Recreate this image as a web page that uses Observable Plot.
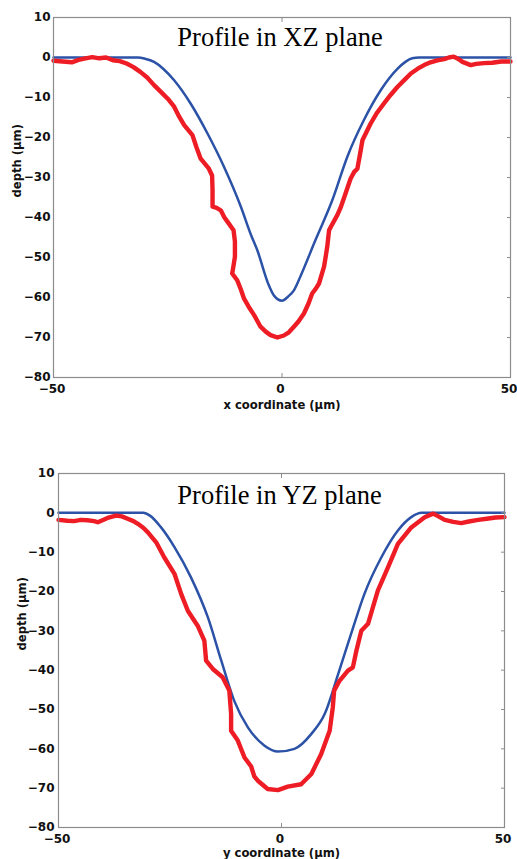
<!DOCTYPE html>
<html>
<head>
<meta charset="utf-8">
<script src="https://cdn.jsdelivr.net/npm/d3@7"></script>
<script src="https://cdn.jsdelivr.net/npm/@observablehq/plot@0.6"></script>
<style>
  html, body { margin: 0; padding: 0; background: #fff; }
  #wrap { width: 517px; height: 859px; overflow: hidden; }
  svg { display: block; }
</style>
</head>
<body>
<div id="wrap"></div>
<script>
// ---------- data ----------
const titles = ["Profile in XZ plane", "Profile in YZ plane"];
const xLabels = ["x coordinate (\u03bcm)", "y coordinate (\u03bcm)"];
const yLabel = "depth (\u03bcm)";
const xTicks = [-50, 0, 50];
const yTicks = [-80, -70, -60, -50, -40, -30, -20, -10, 0, 10];

// XZ plane: simulated (blue)
const xzBlueX = [-50, -31.5, -30, -28, -26, -23.6, -20, -16.3, -12.7, -9, -6.8, -5.4, -3, -1.7, 0, 1.3, 2.6, 4, 7.3, 11, 14.3, 17.9, 21.6, 25.3, 27, 28.5, 30, 50];
const xzBlueD = [0, 0, -0.3, -1.1, -2.8, -5.7, -11.5, -19, -27.3, -37.3, -44.3, -48.2, -56.6, -59.6, -60.8, -59.8, -58.2, -54.8, -45.7, -35.7, -24.8, -15.7, -8.2, -2.8, -1.1, -0.2, 0, 0];

// XZ plane: measured (red)
const xzRedX = [-50, -48, -46, -44.5, -43, -41.5, -40, -38.5, -37, -35.5, -34, -32.5, -31, -29.5, -28, -26.5, -25, -23.6, -22.5, -21.4, -19.6, -18.7, -17.8, -16, -15.3, -15.2, -15.2, -14.3, -13.4, -12.6, -11.9, -10.6, -10.3, -10.3, -10.6, -10.9, -9.8, -9.0, -8.3, -7.3, -6.1, -4.7, -3.5, -2.5, -1, 0.4, 1.5, 2.6, 3.6, 4.8, 5.8, 6.6, 7.4, 8.1, 9.2, 9.6, 9.9, 10.3, 10.7, 12.1, 12.8, 13.6, 15, 15.8, 16.5, 17.1, 17.6, 19.4, 20.8, 22.3, 23.8, 25.3, 26.8, 28.2, 29.7, 31.1, 32.5, 34, 35.5, 36.5, 37.6, 38.5, 39.5, 41.3, 42.5, 44.2, 46, 48, 50];
const xzRedD = [-0.8, -1.0, -1.2, -0.6, -0.2, 0.1, -0.2, 0.0, -0.7, -0.9, -1.5, -2.4, -3.6, -5.0, -6.9, -8.6, -10.3, -12.3, -14.8, -16.9, -19.4, -22.5, -25.3, -27.8, -29.5, -33, -37.3, -37.6, -38.2, -40, -41.1, -43.2, -46, -49.8, -52, -54, -55.7, -58, -60.3, -62.3, -64.4, -67.3, -68.6, -69.4, -70, -69.5, -68.7, -67.3, -66, -64, -61.5, -59, -57.8, -56.5, -52.3, -49.5, -47.3, -43.2, -42.3, -39.4, -37.6, -35.0, -30.3, -28.6, -27.8, -24, -20.7, -16.5, -13.8, -11.5, -9.3, -7.3, -5.6, -4, -2.8, -1.9, -1.2, -0.7, -0.4, 0, 0.2, -0.3, -1.1, -1.9, -1.6, -1.4, -1.3, -1.0, -1.0];

// YZ plane: simulated (blue)
const yzBlueX = [-50, -31, -29.5, -27, -24, -20.3, -16.5, -13.5, -10.6, -7.5, -3.8, -0.8, 2.9, 6.7, 9.7, 12.7, 15.6, 18.6, 22.4, 26.1, 29.1, 31.4, 50];
const yzBlueD = [0, 0, -0.7, -3.7, -8.7, -16.4, -26.6, -37.6, -47.8, -54.6, -59.2, -60.7, -60.0, -56.2, -51.1, -41, -30.8, -20.6, -11.3, -4.5, -1.1, 0, 0];

// YZ plane: measured (red)
const yzRedX = [-50, -48, -46.5, -45, -43.5, -42, -41.2, -40, -39, -37.1, -35.8, -34.5, -33.2, -32.2, -31, -30, -28.1, -26.3, -24, -22.5, -21, -19.8, -18.8, -17.3, -16.9, -15.4, -13.2, -11.7, -11.3, -11.3, -9.8, -8.3, -6.8, -6.1, -5.3, -3.1, -0.8, 1.4, 4.4, 6.7, 8.9, 10.8, 11.5, 11.8, 13, 14.9, 16, 16.8, 17.9, 19.4, 20.5, 21.6, 23.9, 26.1, 29.1, 32.1, 34, 35.2, 36.6, 38.5, 40.3, 42, 44.1, 46, 48, 50];
const yzRedD = [-1.8, -2.0, -2.1, -1.8, -1.9, -2.1, -2.4, -1.8, -1.3, -0.7, -0.9, -1.5, -2.1, -2.8, -3.8, -4.9, -7.5, -11.3, -15.5, -20.6, -24.9, -27.0, -28.7, -32.5, -37.6, -39.7, -41.8, -45.2, -51.1, -55.4, -57.9, -62.2, -64.5, -67, -68.1, -70.2, -70.5, -69.6, -69, -66.4, -61.3, -55.4, -49.5, -45.2, -42.7, -40.1, -39.3, -35, -30, -28.2, -24, -19.8, -13.8, -7.9, -3.7, -1.1, -0.2, -0.9, -1.8, -2.3, -2.6, -2.2, -1.8, -1.5, -1.2, -1.1];

// ---------- drawing ----------
const zipXY = (xs, ds) => xs.map((x, i) => ({x, d: ds[i]}));
const TICK_FONT = "DejaVu Sans";

function panel({title, xLabel, blue, red, height, mTop, mBottom, mLeft, mRight, yPad, titleDy, labelDy, yLabelDx}) {
  return Plot.plot({
    width: 517,
    height,
    marginTop: mTop,
    marginBottom: mBottom,
    marginLeft: mLeft,
    marginRight: mRight,
    style: {fontFamily: TICK_FONT, background: "#fff", overflow: "visible"},
    x: {domain: [-50, 50]},
    y: {domain: [-80, 10]},
    marks: [
      Plot.line(blue, {x: "x", y: "d", curve: "monotone-x", stroke: "#2b52a6", strokeWidth: 2.5, strokeLinejoin: "round"}),
      Plot.line(red, {x: "x", y: "d", stroke: "#ee1c24", strokeWidth: 4.4, strokeLinejoin: "round", strokeLinecap: "round"}),
      Plot.frame({stroke: "#8c8c8c", strokeWidth: 1.2}),
      // tick labels
      Plot.axisX({ticks: xTicks, tickSize: 0, tickPadding: 7, dx: -1.5, label: null, fontSize: 12, fontWeight: "bold", fill: "#111"}),
      Plot.axisY({ticks: yTicks, tickSize: 0, tickPadding: yPad, label: null, fontSize: 12, fontWeight: "bold", fill: "#111"}),
      // inward tick marks
      Plot.axisX({anchor: "top", ticks: xTicks, tickSize: -4, tickFormat: () => "", label: null, stroke: "#8c8c8c"}),
      Plot.axisX({anchor: "bottom", ticks: xTicks, tickSize: -4, tickFormat: () => "", label: null, stroke: "#8c8c8c"}),
      Plot.axisY({anchor: "right", ticks: yTicks, tickSize: -4, tickFormat: () => "", label: null, stroke: "#8c8c8c"}),
      // title
      Plot.text([title], {text: d => d, frameAnchor: "top", lineAnchor: "bottom", dy: titleDy, dx: -2, fontFamily: "Liberation Serif", fontSize: 26.5, fill: "#000"}),
      // axis labels
      Plot.text([xLabel], {text: d => d, frameAnchor: "bottom", lineAnchor: "middle", dy: labelDy, fontSize: 11.6, fontWeight: "bold", fill: "#111"}),
      Plot.text([yLabel], {text: d => d, frameAnchor: "left", lineAnchor: "middle", rotate: -90, dx: yLabelDx, fontSize: 11.6, fontWeight: "bold", fill: "#111"})
    ]
  });
}

const wrap = document.getElementById("wrap");
wrap.append(panel({
  title: titles[0], xLabel: xLabels[0],
  blue: zipXY(xzBlueX, xzBlueD), red: zipXY(xzRedX, xzRedD),
  height: 430, mTop: 17, mBottom: 53, mLeft: 53, mRight: 7,
  yPad: 3, titleDy: 28, labelDy: 28, yLabelDx: -36
}));
wrap.append(panel({
  title: titles[1], xLabel: xLabels[1],
  blue: zipXY(yzBlueX, yzBlueD), red: zipXY(yzRedX, yzRedD),
  height: 429, mTop: 43, mBottom: 32, mLeft: 58, mRight: 13,
  yPad: 4, titleDy: 30, labelDy: 26, yLabelDx: -36
}));
</script>
</body>
</html>
